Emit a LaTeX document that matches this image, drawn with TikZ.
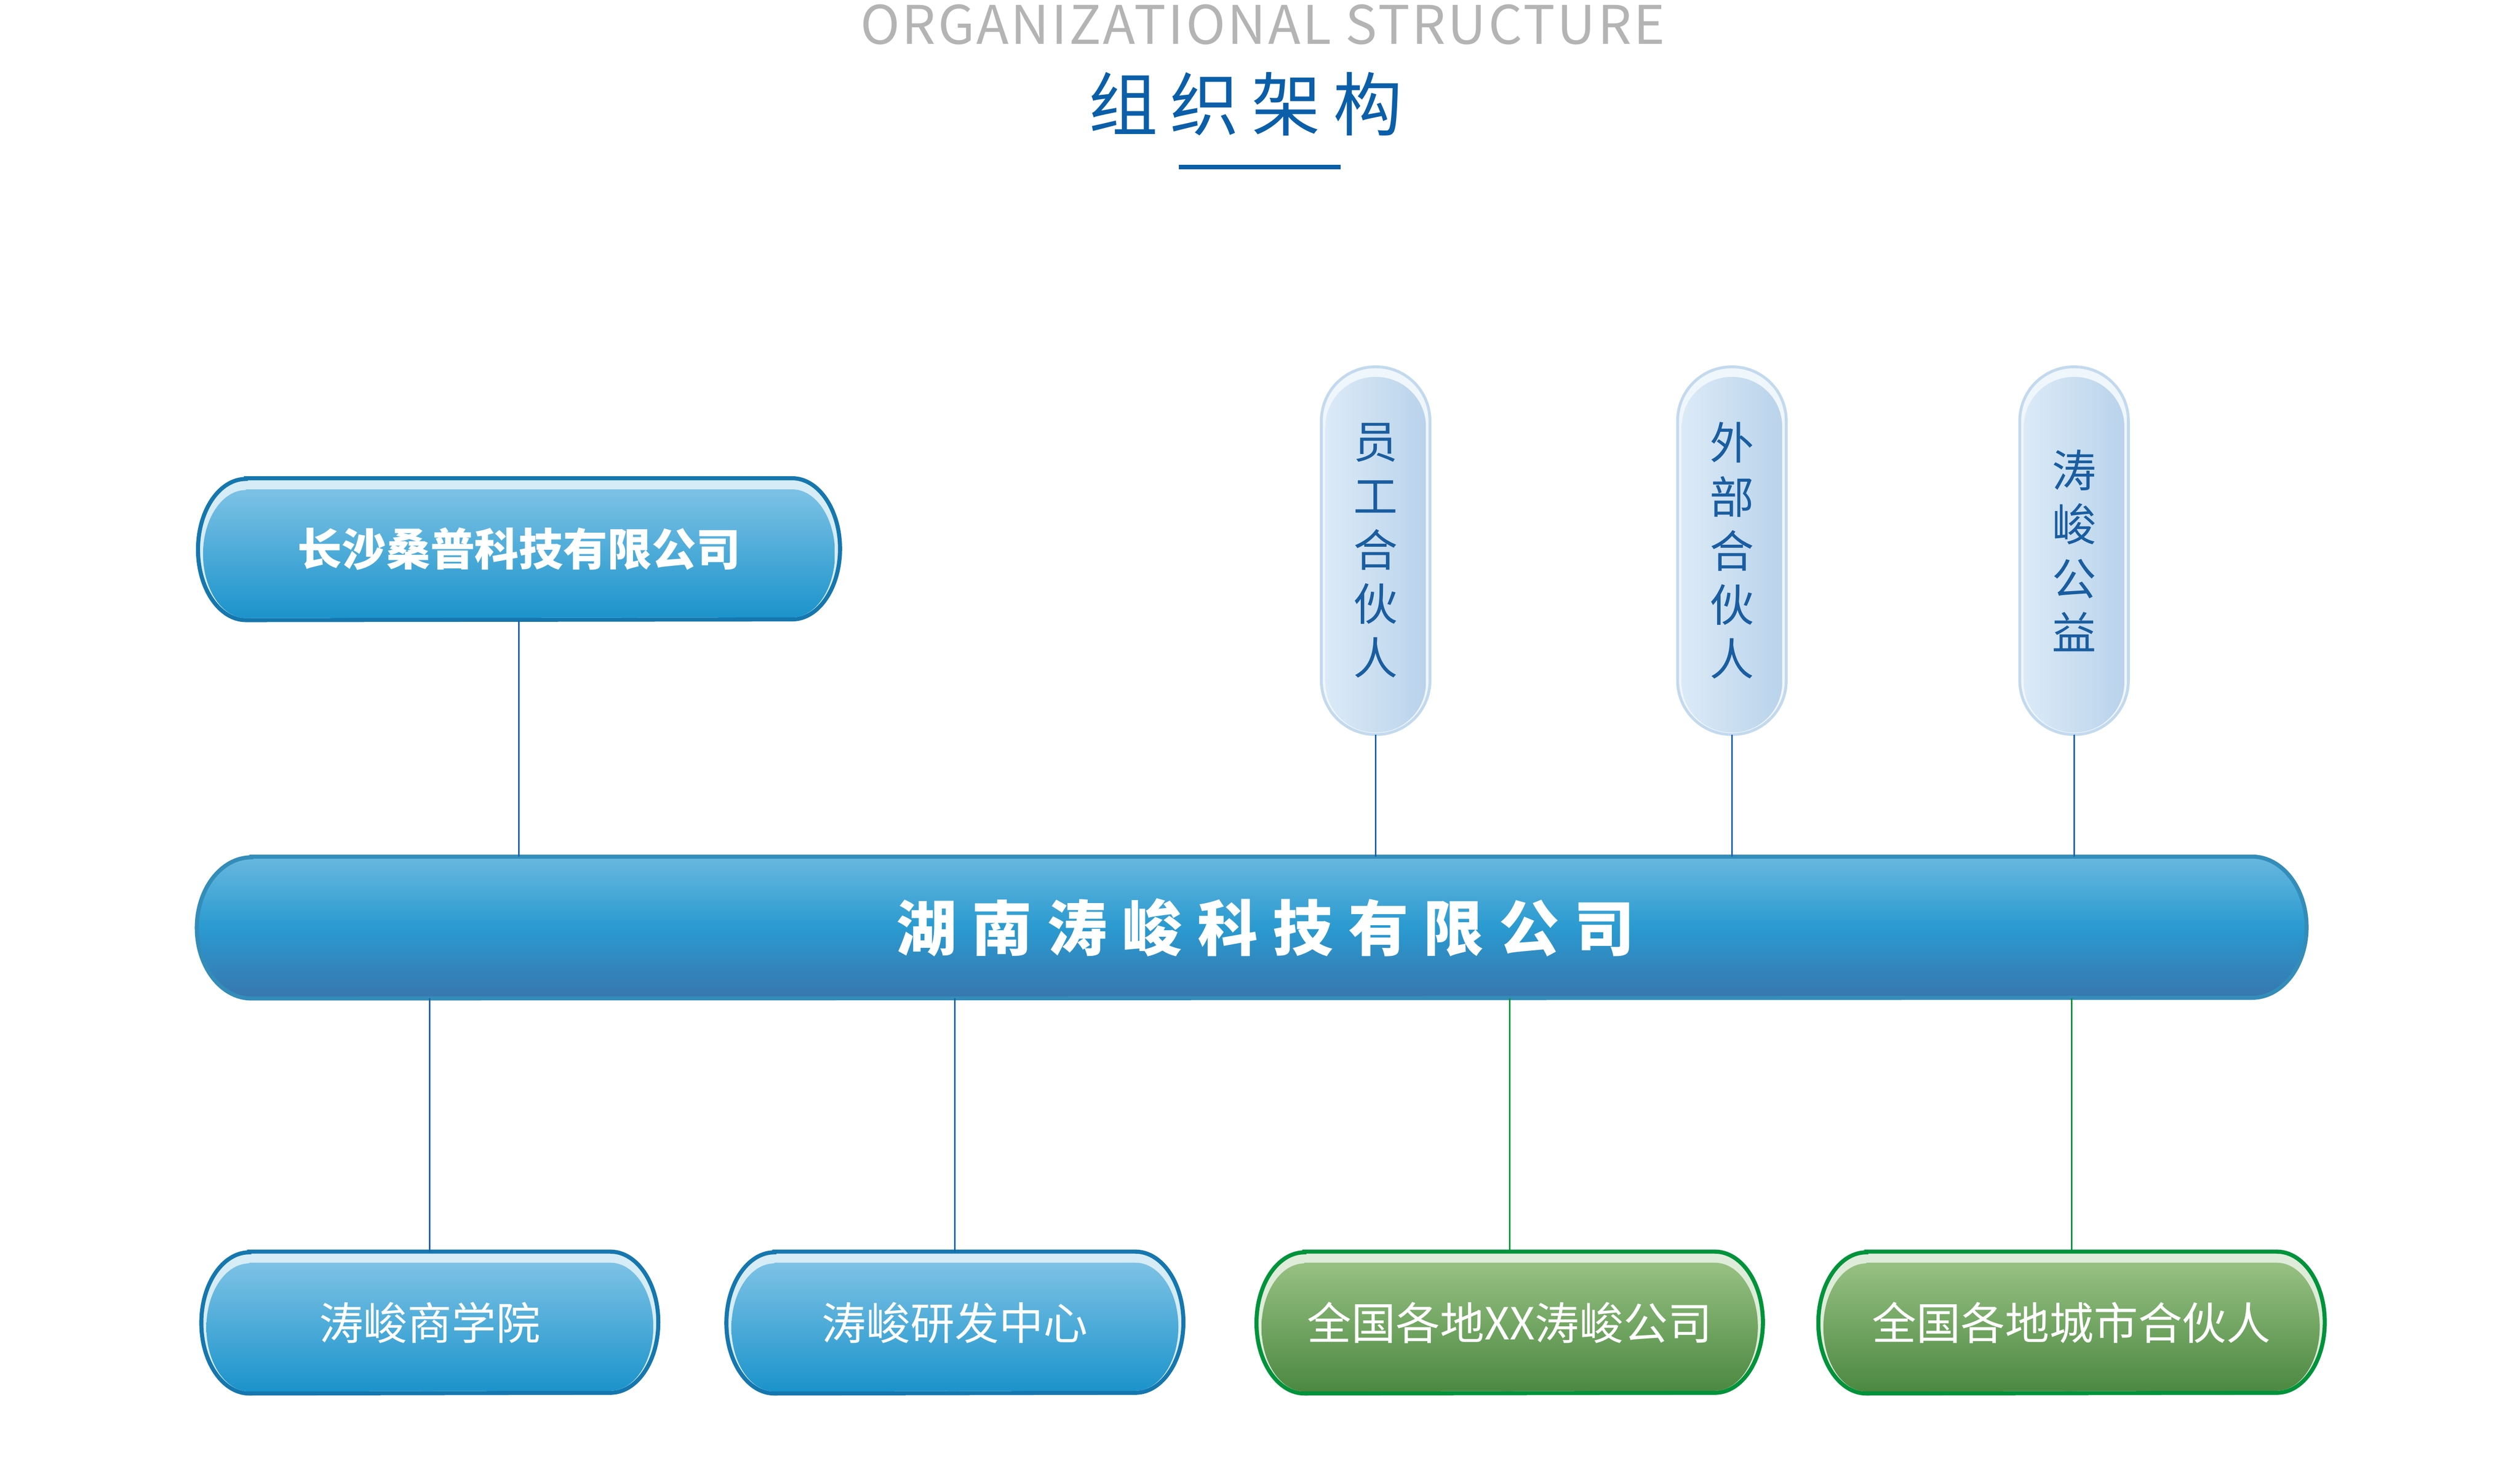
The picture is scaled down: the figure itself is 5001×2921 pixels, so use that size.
\documentclass[tikz,border=0pt]{standalone}
\usepackage{fontspec}
\setmainfont{Noto Sans CJK SC}
\usepackage{tikz}
\usetikzlibrary{backgrounds}

\definecolor{titlegray}{HTML}{B4B4B4}
\definecolor{titleblue}{HTML}{0B5EA8}
\definecolor{maintop}{HTML}{68B8DF}
\definecolor{mainmid}{HTML}{2A9AD0}
\definecolor{mainbottom}{HTML}{3876AE}
\definecolor{mainline}{HTML}{348CB9}
\definecolor{bluetop}{HTML}{7DC2E5}
\definecolor{bluebottom}{HTML}{1B93CB}
\definecolor{blueline}{HTML}{1677AE}
\definecolor{bluegloss}{HTML}{D6ECF7}
\definecolor{greentop}{HTML}{97C183}
\definecolor{greenbottom}{HTML}{4C8841}
\definecolor{greenline}{HTML}{00933B}
\definecolor{greengloss}{HTML}{DFECD9}
\definecolor{pillleft}{HTML}{DCEAF7}
\definecolor{pillright}{HTML}{B9D3EB}
\definecolor{pillline}{HTML}{C3D9EE}
\definecolor{pillgloss}{HTML}{EFF6FC}
\definecolor{pilltext}{HTML}{1A5DA0}
\definecolor{linkblue}{HTML}{1A62A8}
\definecolor{linkgreen}{HTML}{00933B}

\tikzset{
  blue rim/.style={draw=blueline, line width=2.3pt, fill=bluegloss},
  blue body/.style={top color=bluetop, bottom color=bluebottom},
  green rim/.style={draw=greenline, line width=2.3pt, fill=greengloss},
  green body/.style={top color=greentop, bottom color=greenbottom},
  pill rim/.style={draw=pillline, line width=1.6pt, fill=pillgloss},
  pill body/.style={left color=pillleft, right color=pillright},
}

\begin{document}
\begin{tikzpicture}[x=0.01cm, y=0.01cm]
\useasboundingbox (0,0) rectangle (5001,2921);

% heading
\node[anchor=base, inner sep=0pt, text=titlegray, font=\fontsize{30}{36}\selectfont\addfontfeatures{LetterSpace=4}] (entitle) at (2506,2833) {ORGANIZATIONAL STRUCTURE};
\node[anchor=base, inner sep=0pt, text=titleblue, font=\fontsize{39}{46}\selectfont\addfontfeatures{LetterSpace=18}] (cntitle) at (2472,2662) {组织架构};
\coordinate (rule) at (2500,2589);
\draw[titleblue, line width=2.6pt] ([xshift=-1.6cm]rule) -- ([xshift=1.6cm]rule);

\begin{scope}[every node/.style={inner sep=0pt, minimum height=2.8cm, text=white, font=\fontsize{25}{30}\selectfont}]
\node[minimum width=41.83cm, font=\bfseries\fontsize{34}{40}\selectfont\addfontfeatures{LetterSpace=25}] (hunan) at (2484,1080) {\hspace*{0.55cm}湖南涛峻科技有限公司};
\node[minimum width=12.72cm, font=\bfseries\fontsize{25}{30}\selectfont] (sangpu) at (1030,1831) {长沙桑普科技有限公司};
\node[minimum width=9.05cm] (school) at (853,296) {涛峻商学院};
\node[minimum width=9.05cm] (lab) at (1895,296) {涛峻研发中心};
\node[minimum width=10.03cm] (branch) at (2996,296) {全国各地XX涛峻公司};
\node[minimum width=10.03cm] (partner) at (4111,296) {全国各地城市合伙人};
\end{scope}

\begin{scope}[every node/.style={inner sep=0pt, minimum width=2.14cm, minimum height=7.28cm, align=center, text=pilltext, font=\fontsize{25}{30.5}\selectfont}]
\node (staff) at (2730,1828) {员\\工\\合\\伙\\人};
\node (outside) at (3437,1828) {外\\部\\合\\伙\\人};
\node (charity) at (4116,1828) {涛\\峻\\公\\益};
\end{scope}

% box bodies
\begin{scope}[on background layer]
\fill[white] (0,0) rectangle (5001,2921);
\path[draw=mainline, line width=2.3pt, top color=maintop, bottom color=mainbottom, middle color=mainmid] ([xshift=1.08cm]hunan.north west) -- ([xshift=-1.08cm]hunan.north east) arc[start angle=90, end angle=-90, x radius=1.08cm, y radius=1.4cm] -- ([xshift=1.08cm]hunan.south west) arc[start angle=270, end angle=90, x radius=1.08cm, y radius=1.4cm] -- cycle;
\foreach \n/\c in {sangpu/blue, school/blue, lab/blue, branch/green, partner/green} {
  \path[\c\space rim] ([xshift=0.95cm]\n.north west) -- ([xshift=-0.95cm]\n.north east) arc[start angle=90, end angle=-90, x radius=0.95cm, y radius=1.4cm] -- ([xshift=0.95cm]\n.south west) arc[start angle=270, end angle=90, x radius=0.95cm, y radius=1.4cm] -- cycle;
  \path[\c\space body] ([xshift=0.95cm, yshift=-0.22cm]\n.north west) -- ([xshift=-0.95cm, yshift=-0.22cm]\n.north east) arc[start angle=90, end angle=-90, x radius=0.85cm, y radius=1.27cm] -- ([xshift=0.95cm, yshift=0.04cm]\n.south west) arc[start angle=270, end angle=90, x radius=0.85cm, y radius=1.27cm] -- cycle;
}
\foreach \n in {staff, outside, charity} {
  \path[pill rim, rounded corners=1.07cm] (\n.north west) rectangle (\n.south east);
  \path[pill body, rounded corners=0.99cm] ([xshift=0.08cm, yshift=-0.2cm]\n.north west) rectangle ([xshift=-0.08cm, yshift=0.04cm]\n.south east);
}
\end{scope}

% links
\begin{scope}[line width=0.9pt]
\draw[linkblue] (sangpu.south) -- (sangpu.south |- hunan.north);
\foreach \n in {staff, outside, charity}
  \draw[linkblue] (\n.south) -- (\n.south |- hunan.north);
\draw[linkblue] (school.north) -- (school.north |- hunan.south);
\draw[linkblue] (lab.north) -- (lab.north |- hunan.south);
\draw[linkgreen] (branch.north) -- (branch.north |- hunan.south);
\draw[linkgreen] (partner.north) -- (partner.north |- hunan.south);
\end{scope}

\end{tikzpicture}
\end{document}
